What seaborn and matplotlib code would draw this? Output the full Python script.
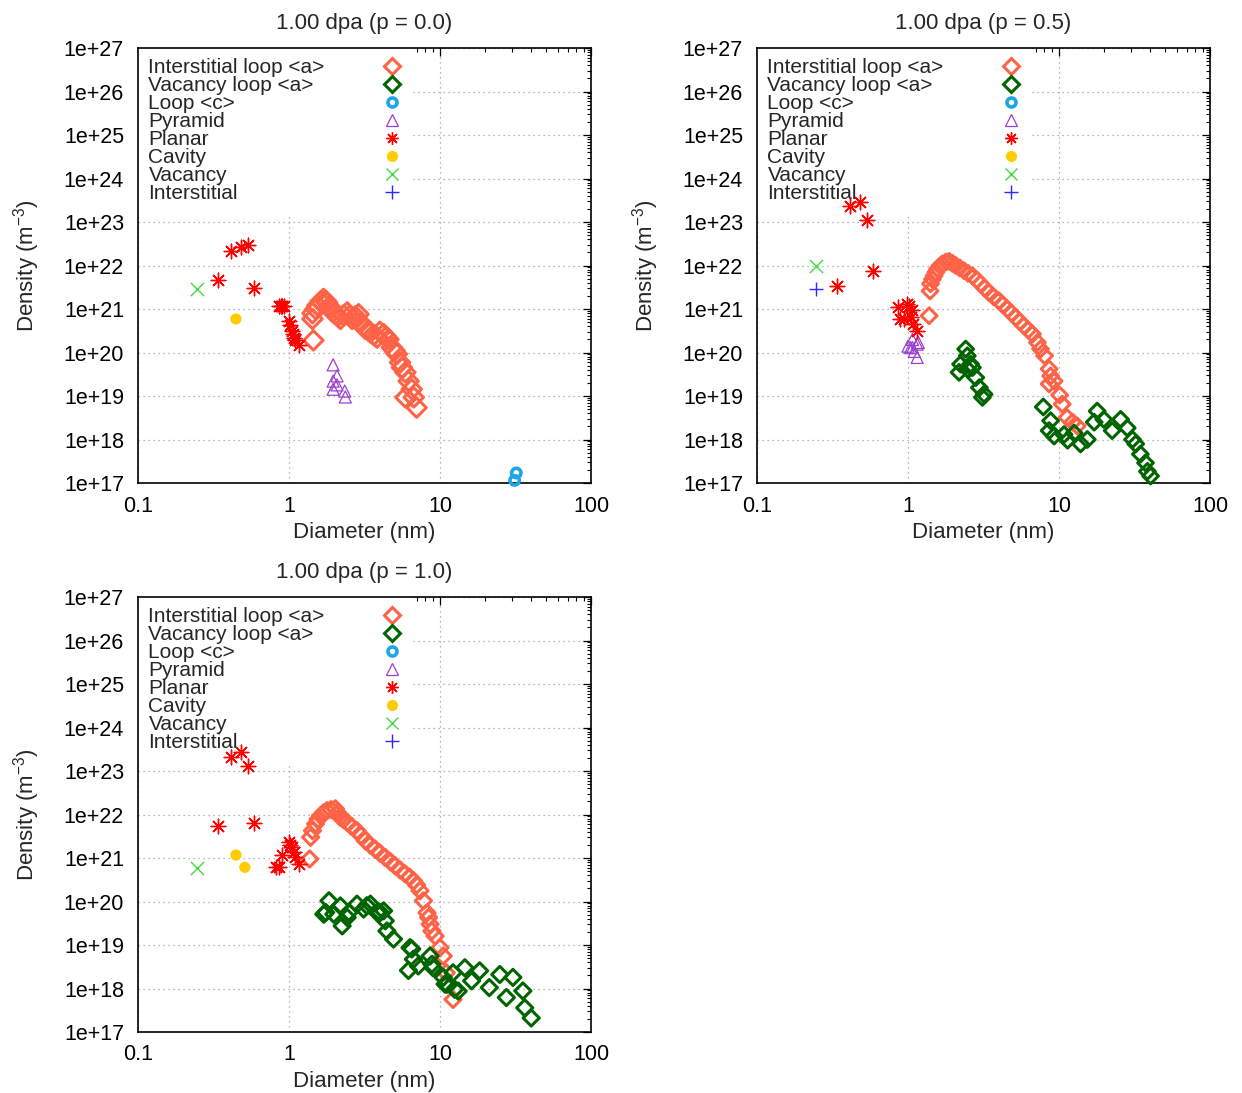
import numpy as np
import pandas as pd
import matplotlib
matplotlib.use("Agg")
import matplotlib.pyplot as plt
import seaborn as sns
from matplotlib.lines import Line2D
from matplotlib.ticker import FixedLocator, FuncFormatter, LogLocator, NullFormatter

# ---------------- DATA ----------------
titles = ["1.00 dpa (p = 0.0)", "1.00 dpa (p = 0.5)", "1.00 dpa (p = 1.0)"]
series_names = ["Interstitial loop <a>", "Vacancy loop <a>", "Loop <c>", "Pyramid",
                "Planar", "Cavity", "Vacancy", "Interstitial"]
x_tick_values = [0.1, 1, 10, 100]
x_tick_labels = ["0.1", "1", "10", "100"]
y_tick_values = [1e17, 1e18, 1e19, 1e20, 1e21, 1e22, 1e23, 1e24, 1e25, 1e26, 1e27]

# panel p = 0.0
p0_iloop_d = [1.45, 1.43, 1.43, 1.5, 1.54, 1.62, 1.69, 1.75, 1.79, 1.85, 1.88, 1.95, 2.03, 2.1,
              2.19, 2.3, 2.43, 2.52, 2.62, 2.75, 2.89, 2.97, 3.1, 3.2, 3.35, 3.46, 3.65, 3.83,
              4.0, 4.23, 4.4, 4.56, 4.8, 5.0, 5.18, 5.44, 5.6, 5.9, 6.2, 6.5, 5.9, 6.7, 7.0]
p0_iloop_n = [1.9e20, 5.9e20, 8e20, 1.0e21, 1.2e21, 1.5e21, 1.7e21, 1.55e21, 1.4e21, 1.15e21,
              1.0e21, 8.5e20, 7.6e20, 6.8e20, 5.9e20, 7.2e20, 8.4e20, 7e20, 5.9e20, 6.8e20,
              7.6e20, 4.9e20, 4.2e20, 3.5e20, 3.2e20, 2.9e20, 2.5e20, 2.2e20, 3.0e20, 2.65e20,
              2.3e20, 2.0e20, 1.3e20, 1.1e20, 9.2e19, 5.9e19, 4.5e19, 3.5e19, 2.2e19, 1.43e19,
              9.3e18, 9.3e18, 5.4e18]
p0_loopc_d = [32.0, 31.2]
p0_loopc_n = [1.7e17, 1.15e17]
p0_pyr_d = [1.96, 2.08, 1.96, 2.08, 1.96, 2.34, 2.36]
p0_pyr_n = [5.2e19, 2.9e19, 2.2e19, 1.8e19, 1.43e19, 1.3e19, 9.5e18]
p0_planar_d = [0.413, 0.48, 0.537, 0.34, 0.588, 0.86, 0.88, 0.9, 0.93, 1.0, 1.02, 1.05, 1.06,
               1.08, 1.1, 1.16]
p0_planar_n = [2.2e22, 2.6e22, 3e22, 4.7e21, 3e21, 1.15e21, 1.15e21, 1.15e21, 1.15e21, 5.4e20,
               4.2e20, 3.2e20, 2.6e20, 2.2e20, 1.9e20, 1.5e20]
p0_cavity_d = [0.445]
p0_cavity_n = [5.9e20]
p0_vac_d = [0.246]
p0_vac_n = [2.9e21]

# panel p = 0.5
p1_iloop_d = [1.38, 1.40, 1.41, 1.45, 1.49, 1.53, 1.57, 1.63, 1.69, 1.78, 1.87, 1.97, 2.07, 2.2,
              2.35, 2.5, 2.67, 2.85, 3.03, 3.22, 3.44, 3.7, 4.0, 4.25, 4.55, 4.85, 5.17, 5.5,
              5.86, 6.25, 6.67, 7.2, 7.55, 8.03, 8.6, 8.8, 9.28, 8.6, 10.1, 10.5, 11.3, 12.3, 13.2]
p1_iloop_n = [7e20, 2.6e21, 3.8e21, 4.8e21, 5.8e21, 7e21, 8.4e21, 9.8e21, 1.09e22, 1.2e22,
              1.25e22, 1.12e22, 1e22, 8.8e21, 7.6e21, 6.6e21, 5.8e21, 4.7e21, 3.8e21, 3e21,
              2.4e21, 1.9e21, 1.55e21, 1.25e21, 1e21, 8e20, 6.4e20, 5.1e20, 4.1e20, 3.3e20,
              2.65e20, 1.7e20, 1.2e20, 8.4e19, 4.2e19, 2.9e19, 2.2e19, 1.9e19, 1.05e19, 6.5e18,
              3.2e18, 2.5e18, 2.05e18]
p1_vloop_d = [2.41, 2.47, 2.23, 2.6, 2.18, 2.47, 2.67, 2.81, 2.97, 3.19, 3.11,
              7.87, 8.8, 8.6, 9.28, 10.8, 11.4, 12.6, 13.9, 15.4, 17.1, 17.9, 19.8, 22.5,
              25.6, 28.3, 30.7, 32.2, 34.6, 37.4, 38.5, 40.4]
p1_vloop_n = [1.2e20, 8.4e19, 5.4e19, 5.4e19, 3.5e19, 4.2e19, 4.5e19, 2.65e19, 1.56e19, 1.1e19,
              9.3e18, 5.6e18, 2.7e18, 1.6e18, 1.2e18, 1.3e18, 9.6e17, 1.4e18, 7.9e17, 1e18,
              2.5e18, 4.5e18, 2.9e18, 1.6e18, 2.9e18, 1.85e18, 1e18, 7.9e17, 4.6e17, 2.9e17,
              1.85e17, 1.45e17]
p1_pyr_d = [1.07, 1.0, 1.15, 1.1, 1.15, 1.07, 1.17, 1.04]
p1_pyr_n = [2e20, 1.4e20, 1.56e20, 1.06e20, 7.7e19, 1.3e20, 1.7e20, 1.3e20]
p1_planar_d = [0.413, 0.479, 0.533, 0.59, 0.34, 0.86, 0.99, 0.89, 0.94, 1.04, 1.08, 1.15, 1.01,
               1.07]
p1_planar_n = [2.3e23, 2.9e23, 1.1e23, 7.6e21, 3.4e21, 1.13e21, 1.3e21, 5.9e20, 5.9e20, 6.4e20,
               4.5e20, 3.2e20, 1.15e21, 9.6e20]
p1_vac_d = [0.245]
p1_vac_n = [1e22]
p1_int_d = [0.245]
p1_int_n = [2.9e21]

# panel p = 1.0
p2_iloop_d = [1.37, 1.39, 1.43, 1.5, 1.56, 1.62, 1.7, 1.79, 1.9, 2.03, 2.1, 2.19, 2.3, 2.43, 2.6,
              2.82, 3.0, 3.2, 3.45, 3.72, 4.0, 4.34, 4.7, 5.05, 5.45, 5.88, 6.3, 6.67, 7.0, 7.37,
              7.77, 8.2, 8.4, 8.6, 8.84, 9.28, 10.0, 10.5, 11.0, 12.2]
p2_iloop_n = [9.5e20, 3e21, 4.25e21, 6.1e21, 7.8e21, 9.4e21, 1.1e22, 1.23e22, 1.3e22, 1.35e22,
              1.1e22, 8.6e21, 7.6e21, 6.6e21, 5.3e21, 4.25e21, 3.3e21, 2.5e21, 2e21, 1.6e21,
              1.3e21, 1.03e21, 8.2e20, 6.6e20, 5.3e20, 4.3e20, 3.6e20, 3e20, 2.4e20, 1.77e20,
              1.04e20, 5.5e19, 4.3e19, 3e19, 2.1e19, 1.6e19, 8.7e18, 5.6e18, 2.3e18, 5.6e17]
p2_vloop_d = [1.84, 1.75, 1.98, 2.19, 2.25, 2.49, 2.82, 3.12, 3.46, 3.83, 4.23, 4.34, 4.45, 4.92,
              1.7, 2.43, 3.28, 4.02,
              6.5, 6.67, 6.18, 7.18, 8.6, 9.0, 10.5, 10.8, 12.2, 12.5, 14.6, 16.2, 18.3, 21.2,
              24.9, 27.5, 30.4, 35.4, 36.4, 40.2, 6.33, 8.84, 11.1, 13.2]
p2_vloop_n = [1.04e20, 5.6e19, 5.1e19, 7.9e19, 2.75e19, 5.6e19, 8.7e19, 6.7e19, 8.7e19, 5.6e19,
              6.1e19, 3.6e19, 2.1e19, 1.37e19,
              5.1e19, 4.3e19, 8e19, 5.6e19,
              8.1e18, 4.7e18, 2.6e18, 3.3e18, 5.6e18, 3.0e18, 1.8e18, 1.26e18, 2.3e18, 9.6e17,
              3.0e18, 1.5e18, 2.55e18, 1.05e18, 2.1e18, 6.2e17, 1.8e18, 8.8e17, 3.6e17, 2.1e17,
              8.7e18, 3.6e18, 1.25e18, 8.7e17]
p2_planar_d = [0.413, 0.48, 0.537, 0.34, 0.588, 0.895, 0.826, 0.86, 1.0, 1.05, 1.08, 1.1, 1.16,
               1.02]
p2_planar_n = [2.1e23, 2.7e23, 1.27e23, 5.3e21, 6.3e21, 1.17e21, 6.1e20, 6.1e20, 2.3e21, 1.75e21,
               1.35e21, 1.03e21, 7.3e20, 2e21]
p2_cavity_d = [0.445, 0.51]
p2_cavity_n = [1.17e21, 6.1e20]
p2_vac_d = [0.246]
p2_vac_n = [5.9e20]

# ---------------- STYLE ----------------
sns.set_style("white")
FONT = ["Liberation Sans", "DejaVu Sans"]
plt.rcParams["font.family"] = FONT
plt.rcParams["mathtext.fontset"] = "custom"
plt.rcParams["mathtext.rm"] = "Liberation Sans"
plt.rcParams["mathtext.it"] = "Liberation Sans:italic"

styles = {
    "Interstitial loop <a>": dict(marker="D", color="#ff6347", filled=False, s=75, lw=2.2, ms=8),
    "Vacancy loop <a>": dict(marker="D", color="#006400", filled=False, s=75, lw=2.2, ms=8),
    "Loop <c>": dict(marker="o", color="#1ea5e6", filled=False, s=45, lw=2.6, ms=6.5),
    "Pyramid": dict(marker="^", color="#9b40d0", filled=False, s=75, lw=0.9, ms=8),
    "Planar": dict(marker=(8, 2, 0), color="#ff0000", filled=None, s=110, lw=1.0, ms=9),
    "Cavity": dict(marker="o", color="#ffcc00", filled=True, s=65, lw=0, ms=8),
    "Vacancy": dict(marker="x", color="#3fdc3f", filled=None, s=90, lw=1.0, ms=9),
    "Interstitial": dict(marker="+", color="#2a2aff", filled=None, s=100, lw=1.0, ms=9.5),
}
# per-panel marker size factor for the loop diamonds
diamond_scale = [1.3, 0.85, 0.9]

panels = [
    {"Interstitial loop <a>": (p0_iloop_d, p0_iloop_n), "Loop <c>": (p0_loopc_d, p0_loopc_n),
     "Pyramid": (p0_pyr_d, p0_pyr_n), "Planar": (p0_planar_d, p0_planar_n),
     "Cavity": (p0_cavity_d, p0_cavity_n), "Vacancy": (p0_vac_d, p0_vac_n)},
    {"Interstitial loop <a>": (p1_iloop_d, p1_iloop_n), "Vacancy loop <a>": (p1_vloop_d, p1_vloop_n),
     "Pyramid": (p1_pyr_d, p1_pyr_n), "Planar": (p1_planar_d, p1_planar_n),
     "Vacancy": (p1_vac_d, p1_vac_n), "Interstitial": (p1_int_d, p1_int_n)},
    {"Interstitial loop <a>": (p2_iloop_d, p2_iloop_n), "Vacancy loop <a>": (p2_vloop_d, p2_vloop_n),
     "Planar": (p2_planar_d, p2_planar_n), "Cavity": (p2_cavity_d, p2_cavity_n),
     "Vacancy": (p2_vac_d, p2_vac_n)},
]

W, H = 1242, 1093
fig = plt.figure(figsize=(W / 100, H / 100), dpi=100)
fig.patch.set_facecolor("white")

# axes boxes in pixels: left, top, right, bottom
boxes = [(138, 48, 591, 483), (757, 48, 1210, 483), (138, 597, 591, 1032)]

draw_order = ["Interstitial loop <a>", "Vacancy loop <a>", "Loop <c>", "Pyramid", "Planar",
              "Cavity", "Vacancy", "Interstitial"]

for k, (box, data) in enumerate(zip(boxes, panels)):
    l, t, r, b = box
    ax = fig.add_axes([l / W, 1 - b / H, (r - l) / W, (b - t) / H])
    ax.set_xscale("log")
    ax.set_yscale("log")
    ax.set_xlim(0.1, 100)
    ax.set_ylim(1e17, 1e27)

    for name in draw_order:
        if name not in data:
            continue
        d, n = data[name]
        st = styles[name]
        df = pd.DataFrame({"d": d, "n": n})
        size = st["s"] * (diamond_scale[k] if st["marker"] == "D" else 1.0)
        kw = dict(marker=st["marker"], s=size, linewidth=st["lw"], zorder=3, clip_on=False)
        if st["filled"] is False:
            kw.update(facecolor="none", edgecolor=st["color"], color=st["color"])
        elif st["filled"] is True:
            kw.update(color=st["color"], edgecolor="none")
        else:
            kw.update(color=st["color"])
        sns.scatterplot(data=df, x="d", y="n", ax=ax, legend=False, **kw)

    # ticks
    ax.xaxis.set_major_locator(FixedLocator(x_tick_values))
    ax.xaxis.set_major_formatter(FuncFormatter(lambda v, _: x_tick_labels[x_tick_values.index(v)]
                                               if v in x_tick_values else ""))
    ax.xaxis.set_minor_locator(LogLocator(base=10, subs=np.arange(2, 10), numticks=20))
    ax.xaxis.set_minor_formatter(NullFormatter())
    ax.yaxis.set_major_locator(FixedLocator(y_tick_values))
    ax.yaxis.set_major_formatter(FuncFormatter(lambda v, _: f"{v:.0e}"))
    ax.yaxis.set_minor_locator(LogLocator(base=10, subs=np.arange(2, 10), numticks=30))
    ax.yaxis.set_minor_formatter(NullFormatter())
    ax.tick_params(which="both", direction="in", top=True, right=True, colors="black",
                   labelsize=15.5)
    ax.tick_params(which="major", length=6, width=0.9)
    ax.tick_params(which="minor", length=3, width=0.8)
    ax.tick_params(axis="y", which="major", pad=10)
    ax.tick_params(axis="x", which="major", pad=9)
    for sp in ax.spines.values():
        sp.set_color("black")
        sp.set_linewidth(1.2)

    ax.set_axisbelow(True)
    ax.grid(True, which="major", linestyle=(0, (1, 3)), color="#a0a0a0", linewidth=0.9)

    ax.set_title(titles[k], fontsize=16, pad=14)
    ax.set_xlabel("Diameter (nm)", fontsize=16, labelpad=4)
    ax.set_ylabel("Density (m$^{-3}$)", fontsize=16, labelpad=16)

    # legend
    handles = []
    for name in series_names:
        st = styles[name]
        if st["filled"] is False:
            h = Line2D([], [], linestyle="none", marker=st["marker"], markersize=st["ms"],
                       markerfacecolor="none", markeredgecolor=st["color"],
                       markeredgewidth=st["lw"])
        elif st["filled"] is True:
            h = Line2D([], [], linestyle="none", marker=st["marker"], markersize=st["ms"],
                       markerfacecolor=st["color"], markeredgecolor="none")
        else:
            h = Line2D([], [], linestyle="none", marker=st["marker"], markersize=st["ms"],
                       color=st["color"], markeredgewidth=st["lw"])
        handles.append(h)
    leg = ax.legend(handles, series_names, loc="upper left", bbox_to_anchor=(0, 1),
                    borderaxespad=0, borderpad=0.5, handlelength=1.0, handletextpad=0.5,
                    labelspacing=-0.05, markerfirst=False, frameon=True, fancybox=False,
                    prop={"family": FONT, "size": 15})
    fr = leg.get_frame()
    fr.set_facecolor("white")
    fr.set_edgecolor("none")
    fr.set_alpha(1)
    leg.set_zorder(2)
    for col in leg._legend_handle_box.get_children():
        for item in col.get_children():
            item.mode = "expand"
            item.width = 254

fig.savefig("out.png", dpi=100, facecolor="white")
